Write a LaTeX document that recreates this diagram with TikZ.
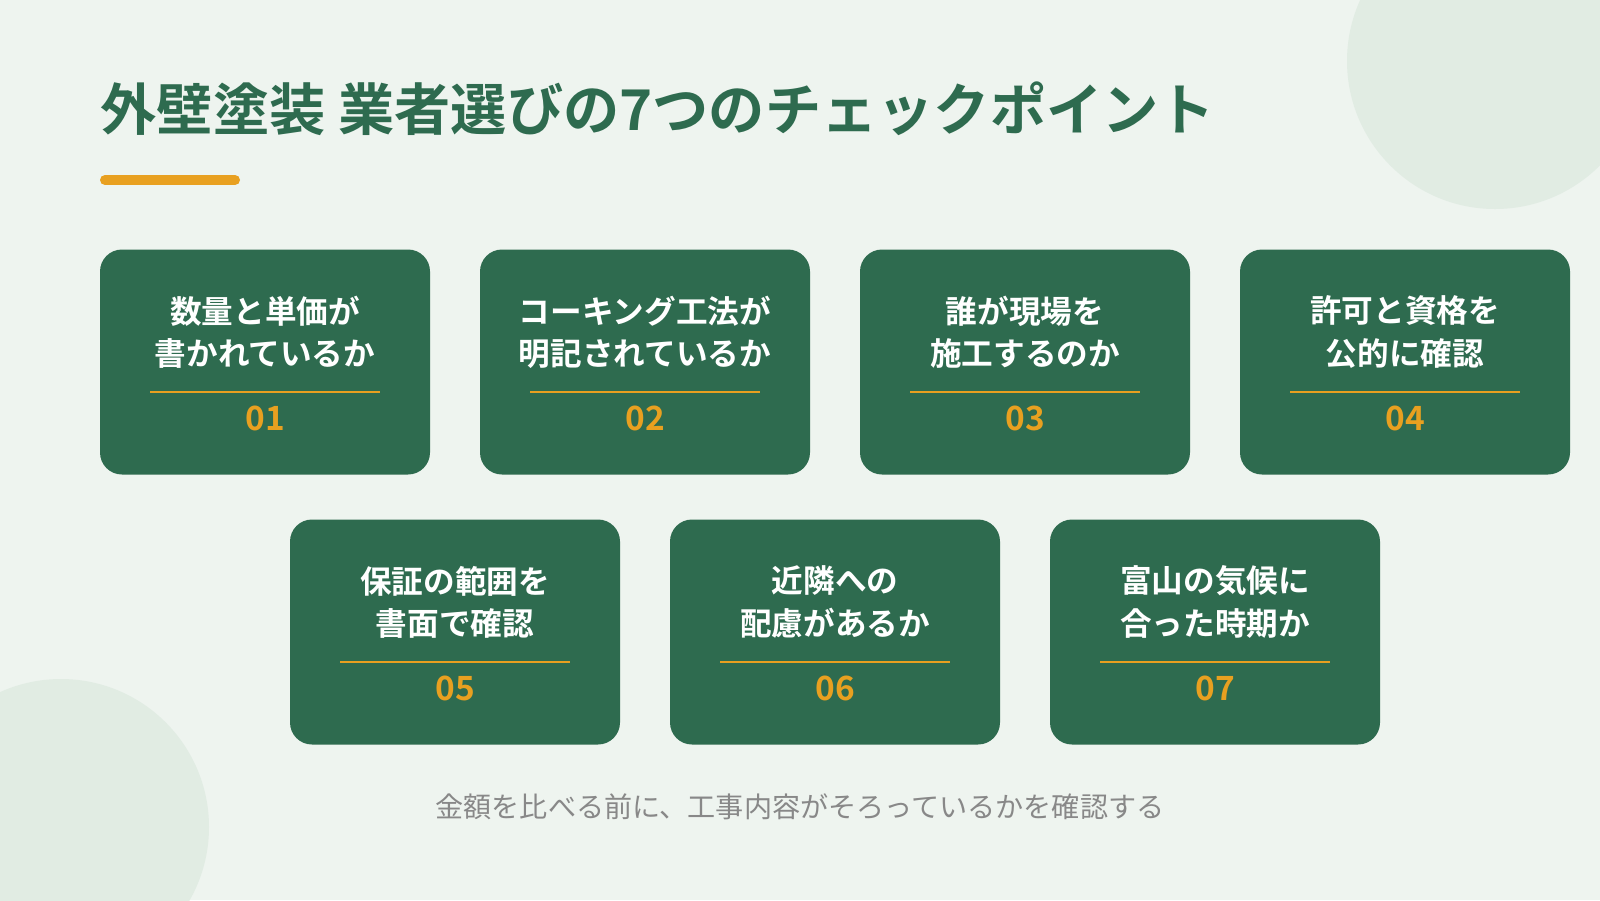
\documentclass[tikz,border=0pt]{standalone}
\usepackage{fontspec}
\setmainfont{Noto Sans CJK JP}[BoldFont=* Bold]
\usepackage{xcolor}
\usepackage{tikz}
\usetikzlibrary{positioning}
\definecolor{bgpale}{HTML}{EEF4EF}
\definecolor{deco}{HTML}{E1ECE3}
\definecolor{cardgreen}{HTML}{2E6B4F}
\definecolor{accent}{HTML}{E8A020}
\definecolor{note}{HTML}{888888}
\tikzset{
  card/.style={fill=cardgreen,rounded corners=2.2mm,minimum width=3.3cm,minimum height=2.25cm,inner sep=0pt},
  num/.style={text=accent,font=\bfseries\fontsize{9.5}{11}\selectfont},
  body/.style={text=white,font=\bfseries\fontsize{9}{12}\selectfont,align=center},
}
\begin{document}
\begin{tikzpicture}[x=1cm,y=-1cm]
	\fill[bgpale] (0,0) rectangle (16,9);
	\useasboundingbox (0,0) rectangle (16,9);
	\fill[deco] (14.95,0.61) circle (1.48);
	\fill[deco] (0.61,8.27) circle (1.48);
	\node[anchor=base west,text=cardgreen,font=\bfseries\fontsize{16}{18}\selectfont,inner sep=0pt] (title) at (1,1.3) {外壁塗装 業者選びの7つのチェックポイント};
	\draw[accent,line width=1mm,line cap=round] (1.05,1.8) -- (2.35,1.8);
	\foreach \x/\y/\n/\t in {
		2.65/3.62/01/{数量と単価が\\書かれているか},
		6.45/3.62/02/{コーキング工法が\\明記されているか},
		10.25/3.62/03/{誰が現場を\\施工するのか},
		14.05/3.62/04/{許可と資格を\\公的に確認},
		4.55/6.32/05/{保証の範囲を\\書面で確認},
		8.35/6.32/06/{近隣への\\配慮があるか},
		12.15/6.32/07/{富山の気候に\\合った時期か}}{
		\node[card] (c\n) at (\x,\y) {};
		\node[num] (n\n) at ([yshift=-0.56cm]c\n.center) {\n};
		\draw[accent,line width=0.5pt] ([xshift=-1.15cm,yshift=-0.3cm]c\n.center) -- ([xshift=1.15cm,yshift=-0.3cm]c\n.center);
		\node[body] (t\n) at ([yshift=0.3cm]c\n.center) {\t};
	}
	\node[text=note,font=\fontsize{8}{10}\selectfont] (foot) at (8,8.07) {金額を比べる前に、工事内容がそろっているかを確認する};
\end{tikzpicture}
\end{document}
